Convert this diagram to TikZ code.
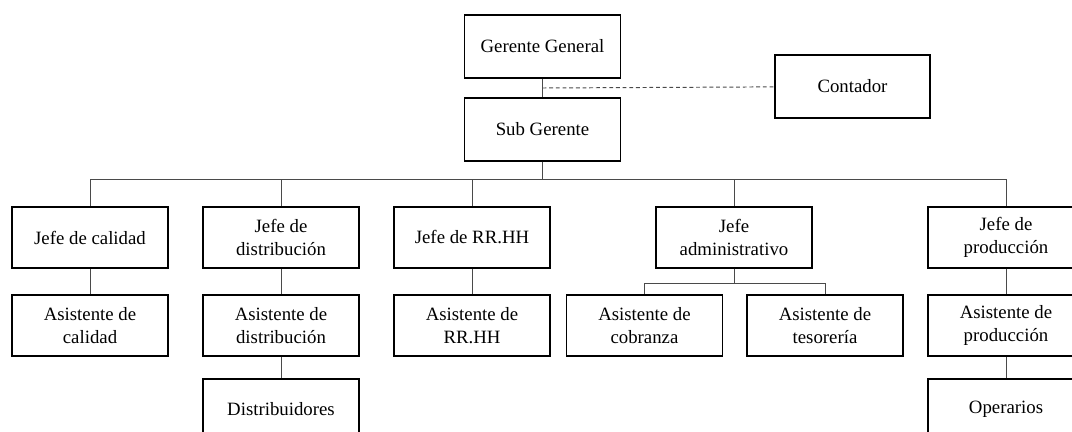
\documentclass[tikz,border=0pt]{standalone}
\usepackage{fontspec}
\setmainfont{Liberation Serif}
\usepackage{tikz}
\usetikzlibrary{positioning,calc}
\definecolor{ink}     {HTML}{000000}
\definecolor{wire}    {HTML}{4A4A4A}
\tikzset{
  every node/.style={font=\fontsize{10.7}{12.7}\selectfont},
  % --- nodes
  box/.style  = {draw=ink, fill=white, align=center, line width=1.1pt,
                 minimum width=3.12cm, minimum height=1.22cm, inner sep=2pt},
  % --- edges
  link/.style = {draw=wire, line width=0.55pt},
  dlink/.style= {link, dashed, dash pattern=on 2.2pt off 1.6pt},
}
\begin{document}
\begin{tikzpicture}[x=0.02cm, y=-0.02cm]
  \useasboundingbox (0,0) rectangle (1072,432);
  % top
  \node[box, minimum height=1.26cm] (gg) at (542.5,46.5) {Gerente General};
  \node[box, minimum height=1.26cm] (sg) at (542.5,129.5) {Sub Gerente};
  \node[box, minimum width=3.1cm, minimum height=1.26cm] (cont) at (852.5,86.5) {Contador};
  \draw[link] (gg) -- (sg);
  \coordinate (mid) at ($(gg.south)!0.5!(sg.north)$);
  \draw[dlink] (mid) -- (cont);
  % jefes
  \node[box] (jc) at (90,237.5)   {Jefe de calidad};
  \node[box] (jd) at (281,237.5)  {Jefe de\\distribución};
  \node[box] (jr) at (472,237.5)  {Jefe de RR.HH};
  \node[box] (ja) at (734,237.5)  {Jefe\\administrativo};
  \node[box] (jp) at (1006,237.5) {Jefe de\\producción};
  \coordinate (bus) at (542.5,179);
  \foreach \j in {jc,jd,jr,ja,jp}
    \draw[link] (sg.south) -- (bus) -| (\j.north);
  % asistentes
  \node[box] (ac)   at (90,325.5)    {Asistente de\\calidad};
  \node[box] (ad)   at (281,325.5)   {Asistente de\\distribución};
  \node[box] (ar)   at (472,325.5)   {Asistente de\\RR.HH};
  \node[box] (acob) at (644.5,325.5) {Asistente de\\cobranza};
  \node[box] (ates) at (825,325.5)   {Asistente de\\tesorería};
  \node[box] (ap)   at (1006,325.5)  {Asistente de\\producción};
  \draw[link] (jc) -- (ac);
  \draw[link] (jd) -- (ad);
  \draw[link] (jr) -- (ar);
  \draw[link] (jp) -- (ap);
  \coordinate (abus) at (734,283);
  \foreach \a in {acob,ates}
    \draw[link] (ja.south) -- (abus) -| (\a.north);
  % ultimo nivel
  \node[box] (dist) at (281,409.5)  {Distribuidores};
  \node[box] (oper) at (1006,409.5) {Operarios};
  \draw[link] (ad) -- (dist);
  \draw[link] (ap) -- (oper);
\end{tikzpicture}
\end{document}
